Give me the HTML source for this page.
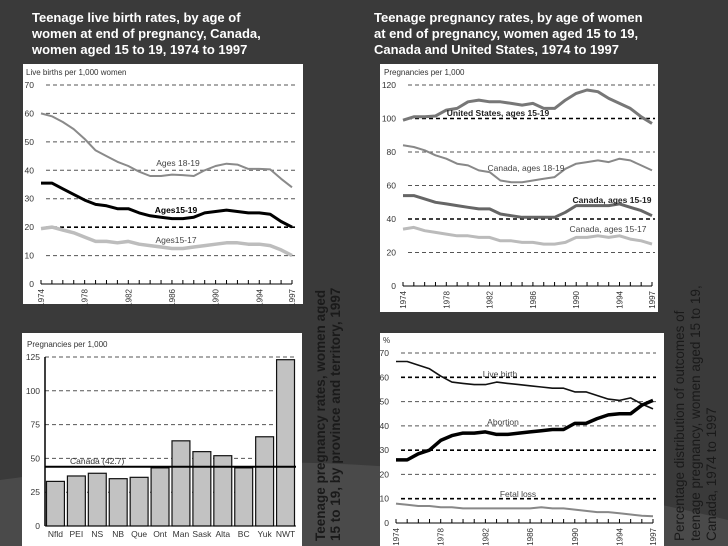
<!DOCTYPE html>
<html><head><meta charset="utf-8"><style>
html,body{margin:0;padding:0;background:#393939;}
svg{display:block;font-family:"Liberation Sans",sans-serif;}
</style></head><body>
<svg id="c" width="728" height="546" viewBox="0 0 728 546">
<rect x="0" y="0" width="728" height="546" fill="#3a3a3a"/>
<path d="M0 480 Q360 430 728 520 L728 546 L0 546 Z" fill="#4a4a4a"/>
<text x="32" y="22" fill="#fff" font-size="13" font-weight="bold"><tspan x="32">Teenage live birth rates, by age of</tspan><tspan x="32" dy="16">women at end of pregnancy, Canada,</tspan><tspan x="32" dy="16">women aged 15 to 19, 1974 to 1997</tspan></text>
<text x="374" y="22" fill="#fff" font-size="13" font-weight="bold"><tspan x="374">Teenage pregnancy rates, by age of women</tspan><tspan x="374" dy="16">at end of pregnancy, women aged 15 to 19,</tspan><tspan x="374" dy="16">Canada and United States, 1974 to 1997</tspan></text>
<text transform="translate(325,541) rotate(-90)" fill="#1a1a1a" font-size="13.5" font-weight="bold"><tspan x="0" y="0">Teenage pregnancy rates, women aged</tspan><tspan x="0" dy="15">15 to 19, by province and territory, 1997</tspan></text>
<text transform="translate(684,541) rotate(-90)" fill="#1a1a1a" font-size="13.5"><tspan x="0" y="0">Percentage distribution of outcomes of</tspan><tspan x="0" dy="16">teenage pregnancy, women aged 15 to 19,</tspan><tspan x="0" dy="16">Canada, 1974 to 1997</tspan></text>
<rect x="23" y="64" width="280" height="240" fill="#fff"/>
<rect x="380" y="64" width="278" height="248" fill="#fff"/>
<rect x="22" y="333" width="280" height="213" fill="#fff"/>
<rect x="380" y="333" width="284" height="213" fill="#fff"/>
<g id="g"></g>
</svg>
<script>
const years = [1974,1975,1976,1977,1978,1979,1980,1981,1982,1983,1984,1985,1986,1987,1988,1989,1990,1991,1992,1993,1994,1995,1996,1997];
const yearTicks = [1974,1978,1982,1986,1990,1994,1997];
// Chart A: live births
const birth1819 = [60,59,57,54.5,51,47,45,43,41.5,39.5,38,38,38.5,38.3,38,40,41.5,42.3,42,40.5,40.5,40.3,37,34];
const birth1519 = [35.5,35.5,33.5,31.5,29.5,28,27.5,26.5,26.5,25,24,23.5,23,23,23.5,25,25.5,26,25.5,25,25,24.5,22,20];
const birth1517 = [19.5,20,19,18,16.5,15,15,14.5,15,14,13.5,13,12.5,12.5,13,13.5,14,14.5,14.5,14,14,13.5,12,10];
const birthTicks = [0,10,20,30,40,50,60,70];
// Chart B: pregnancy
const pregUS = [99,101,101,101.5,105,106,110,111,110,110,109,108,109,106,106,111,115,117,116,112,109,106,101,97];
const preg1819 = [84,83,81,78,76,73,72,69,68,63,62,62,63,64,65,70,73,74,75,74,76,75,72,69];
const preg1519 = [54,54,52,50,49,48,47,46,46,43,42,41,41,41,41,44,48,48,48,48,49,47,45,42];
const preg1517 = [34,35,33,32,31,30,30,29,29,27,27,26,26,25,25,26,29,29,30,29,30,28,27,25];
const pregTicks = [0,20,40,60,80,100,120];
// Chart C: provinces
const provinces = ["Nfld","PEI","NS","NB","Que","Ont","Man","Sask","Alta","BC","Yuk","NWT"];
const provValues = [33,37,39,35,36,43,63,55,52,43,66,123];
const canadaAvg = [42.7];
const provTicks = [0,25,50,75,100,125];
// Chart D: outcomes
const liveBirth = [66.5,66.5,65,63.5,60.5,58,57.5,57,57,58,57.5,57,56.5,56,55.5,55.5,54,54,52.5,51,50.5,51.5,49,47];
const abortion = [26,26,28.5,30,34,36,37,37,37.5,36.5,36.5,37,37.5,38,38.5,38.5,41,41,43,44.5,45,45,48.5,50.5];
const fetalLoss = [8,7.5,7,7,6.5,6.5,6,6,6,6,6,6,6,6.5,6,6,5.5,5,4.5,4.5,4,3.5,3,2.8];
const outTicks = [0,10,20,30,40,50,60,70];

const NS='http://www.w3.org/2000/svg';
const G=document.getElementById('g');
function el(t,a,p){const e=document.createElementNS(NS,t);for(const k in a)e.setAttribute(k,a[k]);(p||G).appendChild(e);return e;}
function txt(x,y,s,a,name){const e=el('text',Object.assign({x:x,y:y,'font-size':9,fill:'#333'},a||{}));e.textContent=s;


return e;}

function lineChart(cfg){
  const sx=v=>cfg.x0+(v-1974)*(cfg.x1-cfg.x0)/23;
  const sy=v=>cfg.y0-(v-cfg.min)*(cfg.y0-cfg.y1)/(cfg.max-cfg.min);
  txt(cfg.ux,cfg.y1-10,cfg.unit,{'font-size':8},cfg.id+'-y-title');
  cfg.ticks.forEach(t=>{
    const y=sy(t);
    txt(cfg.x0-7,y+3,String(t),{'text-anchor':'end','font-size':8.5},cfg.id+'-y-tick');
    if(t>0){const bold=cfg.bold.indexOf(t)>=0;
      const g=el('line',{x1:cfg.x0+5,x2:cfg.x1+3,y1:y,y2:y,stroke:bold?'#000':'#555','stroke-width':bold?1.6:1,'stroke-dasharray':'4,3'});
      
      }
  });
  const ax=el('line',{x1:cfg.x0,x2:cfg.x1,y1:cfg.y0,y2:cfg.y0,stroke:'#000','stroke-width':1});
  
  
  years.forEach(yr=>{const t=el('line',{x1:sx(yr),x2:sx(yr),y1:cfg.y0-4,y2:cfg.y0,stroke:'#000'});
    
    });
  yearTicks.forEach(yr=>{const x=sx(yr),y=cfg.y0+5;
    txt(0,0,String(yr),{'font-size':8,transform:`translate(${x+3},${y}) rotate(-90)`,'text-anchor':'end'},cfg.id+'-x-label');});
  cfg.series.forEach(s=>{
    const pts=s.data.map((v,i)=>sx(years[i]).toFixed(1)+','+sy(v).toFixed(1)).join(' ');
    const p=el('polyline',{points:pts,fill:'none',stroke:s.color,'stroke-width':s.w,'stroke-linejoin':'round'});
    
    
    txt(s.lx,s.ly,s.label,{'font-size':s.fs||8.5,'font-weight':s.bold?'bold':'normal',fill:s.lc||'#444','text-anchor':'middle'},s.name+'-label');
  });
}

lineChart({id:'birth',x0:41,x1:292,y0:284,y1:85,min:0,max:70,ux:26,ticks:birthTicks,bold:[20],unit:'Live births per 1,000 women',
 series:[
  {name:'line-ages-18-19',data:birth1819,color:'#8a8a8a',w:2,label:'Ages 18-19',lx:178,ly:166},
  {name:'line-ages-15-19',data:birth1519,color:'#000',w:3,label:'Ages15-19',lx:176,ly:213,bold:true,lc:'#000'},
  {name:'line-ages-15-17',data:birth1517,color:'#bdbdbd',w:3.5,label:'Ages15-17',lx:176,ly:243}
 ]});
lineChart({id:'preg',x0:403,x1:652,y0:286,y1:85,min:0,max:120,ux:384,ticks:pregTicks,bold:[40,100],unit:'Pregnancies per 1,000',
 series:[
  {name:'line-us-15-19',data:pregUS,color:'#777',w:3,label:'United States, ages 15-19',lx:498,ly:116,bold:true,lc:'#222'},
  {name:'line-canada-18-19',data:preg1819,color:'#888',w:2,label:'Canada, ages 18-19',lx:526,ly:171},
  {name:'line-canada-15-19',data:preg1519,color:'#666',w:3,label:'Canada, ages 15-19',lx:612,ly:203,bold:true,lc:'#222'},
  {name:'line-canada-15-17',data:preg1517,color:'#bbb',w:3,label:'Canada, ages 15-17',lx:608,ly:232}
 ]});
lineChart({id:'outcome',x0:396,x1:653,y0:523,y1:353,min:0,max:70,ux:383,ticks:outTicks,bold:[10,30,60],unit:'%',
 series:[
  {name:'line-live-birth',data:liveBirth,color:'#111',w:1.6,label:'Live birth',lx:500,ly:377},
  {name:'line-abortion',data:abortion,color:'#000',w:3.5,label:'Abortion',lx:503,ly:425},
  {name:'line-fetal-loss',data:fetalLoss,color:'#888',w:2,label:'Fetal loss',lx:518,ly:497}
 ]});

// Bar chart
(function(){
  const x0=45,x1=296,y0=526,y1=357,max=125;
  const sy=v=>y0-v*(y0-y1)/max;
  const slot=(x1-x0)/provinces.length;
  txt(27,347,'Pregnancies per 1,000',{'font-size':8},'province-y-title');
  provTicks.forEach(t=>{const y=sy(t);
    txt(x0-5,y+3,String(t),{'text-anchor':'end','font-size':8.5},'province-y-tick');
    if(t>0){const g=el('line',{x1:x0,x2:x1,y1:y,y2:y,stroke:'#555','stroke-dasharray':'4,3'});
      
      }});
  const ya=el('line',{x1:x0,x2:x0,y1:y1,y2:y0,stroke:'#000','stroke-width':1.5});
  
  
  provinces.forEach((p,i)=>{
    const bx=x0+i*slot+1.5,v=provValues[i];
    const r=el('rect',{x:bx,y:sy(v),width:slot-3,height:y0-sy(v),fill:'#c2c2c2',stroke:'#111','stroke-width':1.2});
    
    
    txt(bx+(slot-3)/2,537,p,{'text-anchor':'middle','font-size':8.5},'province-x-label');
  });
  const xa=el('line',{x1:x0,x2:x1,y1:y0,y2:y0,stroke:'#000'});
  
  
  const cy=sy(canadaAvg[0])-1.5;
  const cl=el('line',{x1:x0,x2:x1,y1:cy,y2:cy,stroke:'#000','stroke-width':2});
  
  
  txt(70,cy-3,'Canada ('+canadaAvg[0]+')',{'font-size':8.5},'canada-average-label');
})();
</script>
</body></html>
